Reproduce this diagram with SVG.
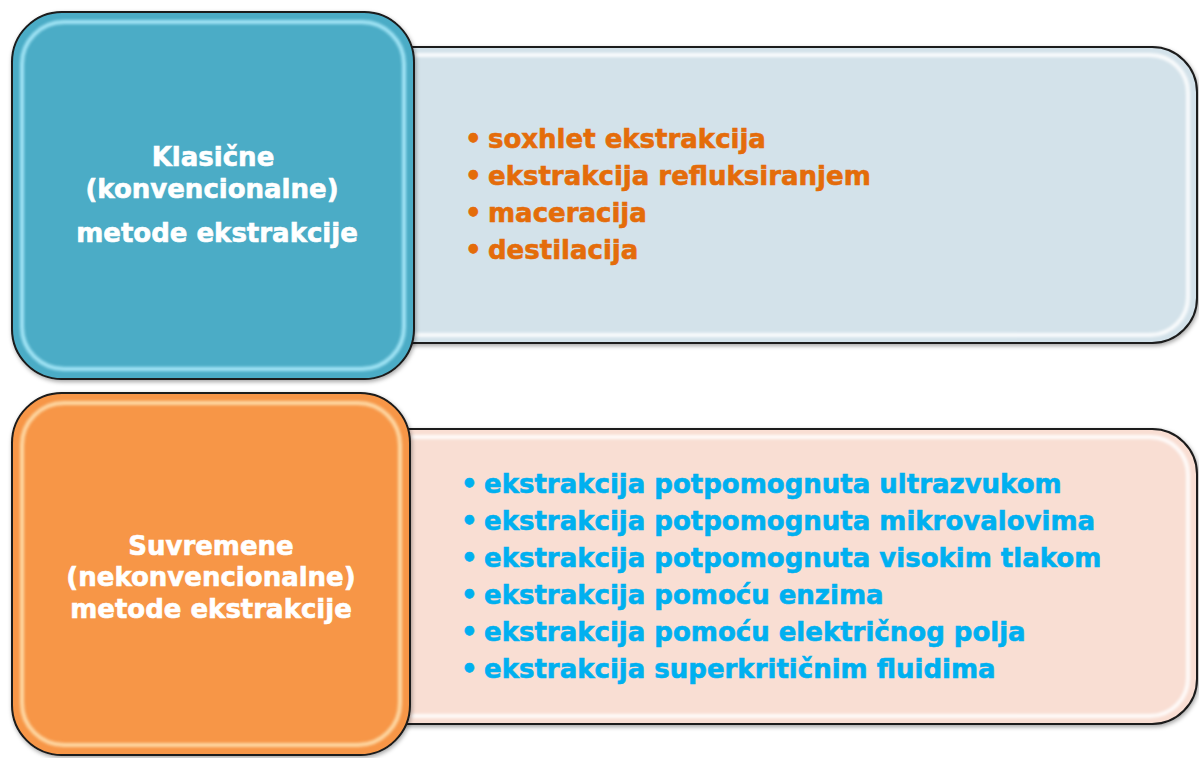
<svg xmlns="http://www.w3.org/2000/svg" width="1199" height="758" viewBox="0 0 1199 758">
  <defs>
    <filter id="shadow" x="-10%" y="-10%" width="120%" height="120%">
      <feDropShadow dx="1" dy="2" stdDeviation="2" flood-color="#000" flood-opacity="0.35"/>
    </filter>
    <filter id="glow" x="-5%" y="-5%" width="110%" height="110%">
      <feGaussianBlur stdDeviation="1.6"/>
    </filter>
    <clipPath id="clipTL"><rect x="12" y="12" width="402" height="367" rx="50"/></clipPath>
    <clipPath id="clipBL"><rect x="12" y="393" width="398" height="362" rx="50"/></clipPath>
    <clipPath id="clipTR"><path d="M408,47 H1152 A45,45 0 0 1 1197,92 V298 A45,45 0 0 1 1152,343 H408 Z"/></clipPath>
    <clipPath id="clipBR"><path d="M405,429 H1152 A45,45 0 0 1 1197,474 V679 A45,45 0 0 1 1152,724 H405 Z"/></clipPath>
  </defs>
  <style>
    .box { stroke: #1a1a1a; stroke-width: 2; }
    .hl { fill: none; stroke-width: 4; filter: url(#glow); }
    .head { font-family: "DejaVu Sans", Verdana, sans-serif; font-weight: bold; font-size: 26px; fill: #ffffff; stroke: #ffffff; stroke-width: 0.6; text-anchor: middle; }
    .item { font-family: "DejaVu Sans", Verdana, sans-serif; font-weight: bold; font-size: 26px; stroke-width: 0.6; }
    .orange { fill: #E46C0A; stroke: #E46C0A; }
    .blue { fill: #00B0F0; stroke: #00B0F0; }
  </style>

  <g id="node-classic-list">
    <path class="box" filter="url(#shadow)" fill="#D3E2EA" d="M408,47 H1152 A45,45 0 0 1 1197,92 V298 A45,45 0 0 1 1152,343 H408 Z"/>
    <g clip-path="url(#clipTR)">
      <path class="hl" stroke="#FFFFFF" opacity="0.9" d="M414,55 H1150 A38,38 0 0 1 1188,93 V297 A38,38 0 0 1 1150,335 H414"/>
    </g>
    <text class="item orange" x="465" y="148">•</text>
    <text class="item orange" x="488" y="148">soxhlet ekstrakcija</text>
    <text class="item orange" x="465" y="185">•</text>
    <text class="item orange" x="488" y="185">ekstrakcija refluksiranjem</text>
    <text class="item orange" x="465" y="222">•</text>
    <text class="item orange" x="488" y="222">maceracija</text>
    <text class="item orange" x="465" y="259">•</text>
    <text class="item orange" x="488" y="259">destilacija</text>
  </g>

  <g id="node-modern-list">
    <path class="box" filter="url(#shadow)" fill="#F9DED3" d="M405,429 H1152 A45,45 0 0 1 1197,474 V679 A45,45 0 0 1 1152,724 H405 Z"/>
    <g clip-path="url(#clipBR)">
      <path class="hl" stroke="#FFFFFF" opacity="0.9" d="M411,437 H1150 A38,38 0 0 1 1188,475 V678 A38,38 0 0 1 1150,716 H411"/>
    </g>
    <text class="item blue" x="461" y="493">•</text>
    <text class="item blue" x="484" y="493">ekstrakcija potpomognuta ultrazvukom</text>
    <text class="item blue" x="461" y="530">•</text>
    <text class="item blue" x="484" y="530">ekstrakcija potpomognuta mikrovalovima</text>
    <text class="item blue" x="461" y="567">•</text>
    <text class="item blue" x="484" y="567">ekstrakcija potpomognuta visokim tlakom</text>
    <text class="item blue" x="461" y="604">•</text>
    <text class="item blue" x="484" y="604">ekstrakcija pomoću enzima</text>
    <text class="item blue" x="461" y="641">•</text>
    <text class="item blue" x="484" y="641">ekstrakcija pomoću električnog polja</text>
    <text class="item blue" x="461" y="678">•</text>
    <text class="item blue" x="484" y="678">ekstrakcija superkritičnim fluidima</text>
  </g>

  <g id="node-classic">
    <rect class="box" filter="url(#shadow)" fill="#4BACC6" x="12" y="12" width="402" height="367" rx="50"/>
    <g clip-path="url(#clipTL)">
      <rect class="hl" stroke="#B4F0FF" opacity="0.85" x="22" y="22" width="382" height="347" rx="42"/>
    </g>
    <text class="head" x="213" y="166">Klasične</text>
    <text class="head" x="212" y="198">(konvencionalne)</text>
    <text class="head" x="217" y="242">metode ekstrakcije</text>
  </g>

  <g id="node-modern">
    <rect class="box" filter="url(#shadow)" fill="#F79646" x="12" y="393" width="398" height="362" rx="50"/>
    <g clip-path="url(#clipBL)">
      <rect class="hl" stroke="#FFE6B8" opacity="0.85" x="22" y="403" width="378" height="342" rx="42"/>
    </g>
    <text class="head" x="211" y="555">Suvremene</text>
    <text class="head" x="211" y="586">(nekonvencionalne)</text>
    <text class="head" x="211" y="618">metode ekstrakcije</text>
  </g>

  <g id="connectors"></g>
</svg>
